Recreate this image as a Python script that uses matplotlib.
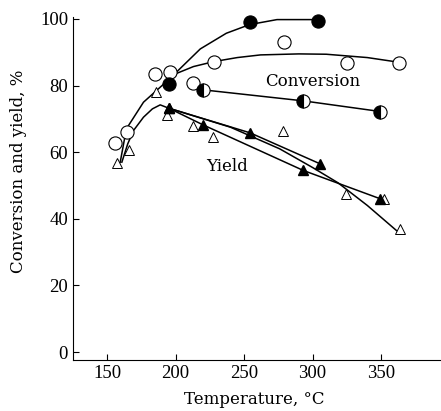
import matplotlib
matplotlib.use('Agg')
import matplotlib.pyplot as plt

plt.rcParams['font.family'] = ['Liberation Serif', 'DejaVu Serif']

# conversion, filled circles
conv_full_t = [195, 254, 304]
conv_full_y = [80.5, 99, 99.3]
conv_full_fit_t = [159.5, 164, 176.5, 188.7, 198, 218, 237, 254, 274, 304]
conv_full_fit_y = [57, 67, 75, 79.5, 83, 91, 95.7, 98.3, 99.8, 99.8]

# conversion, open circles
conv_open_t = [156, 164.4, 185, 196, 213, 228, 279.4, 325, 363.3]
conv_open_y = [62.9, 66, 83.4, 84, 80.9, 87.2, 93.1, 86.8, 86.9]
conv_open_fit_t = [198, 213, 228, 245, 262, 290, 310, 340, 363]
conv_open_fit_y = [83.2, 85.7, 87.2, 88.4, 89.2, 89.5, 89.4, 88.4, 87]

# conversion, half-filled circles
conv_half_t = [220.3, 293.3, 349.6]
conv_half_y = [78.7, 75.4, 72.2]

# yield, open triangles
yield_open_t = [157, 165.6, 185.5, 193.6, 212.5, 227, 278.7, 324.5, 363.9, 352]
yield_open_y = [56.6, 60.6, 78.2, 71.2, 67.8, 64.5, 66.3, 47.4, 36.9, 46]
yield_fit_t = [160.7, 165, 169.2, 176.5, 183, 188.7, 195, 240, 276, 300.4, 318.6, 340, 361.5]
yield_fit_y = [57, 62.5, 66.5, 70.5, 73, 74.2, 73.2, 67.5, 61, 55.3, 50.8, 44, 36.4]

# yield, filled triangles (two runs)
yield_a_t = [195, 254.4, 305.5]
yield_a_y = [73.2, 65.8, 56.5]
yield_b_t = [195, 220, 293.3, 349.5]
yield_b_y = [73.2, 68.2, 54.5, 46]

fig = plt.figure(figsize=(4.41, 4.11), dpi=100)
ax = fig.add_axes([0.1655, 0.124, 0.832, 0.834])

lw = 1.1
ax.plot(conv_full_fit_t, conv_full_fit_y, color='black', lw=lw, clip_on=False)
ax.plot(conv_open_fit_t, conv_open_fit_y, color='black', lw=lw)
ax.plot(conv_half_t, conv_half_y, color='black', lw=lw)
ax.plot(yield_fit_t, yield_fit_y, color='black', lw=lw)
ax.plot(yield_a_t, yield_a_y, color='black', lw=lw)
ax.plot(yield_b_t, yield_b_y, color='black', lw=lw)

ax.plot(conv_open_t, conv_open_y, 'o', ms=9.5, mfc='white', mec='black', mew=0.8)
ax.plot(conv_full_t, conv_full_y, 'o', ms=9.5, mfc='black', mec='black', mew=0.8,
        clip_on=False)
ax.plot(conv_half_t, conv_half_y, 'o', ms=9.5, mfc='black', mfcalt='white',
        fillstyle='left', mec='black', mew=0.8)
ax.plot(yield_open_t, yield_open_y, '^', ms=7.5, mfc='white', mec='black', mew=0.7)
ax.plot(yield_a_t + yield_b_t, yield_a_y + yield_b_y, '^', ms=7.5, mfc='black', mec='black')

ax.text(300, 81.3, 'Conversion', fontsize=12, ha='center', va='center',
        family='DejaVu Serif')
ax.text(237.5, 55.8, 'Yield', fontsize=12, ha='center', va='center',
        family='DejaVu Serif')

ax.set_xlim(125, 393)
ax.set_ylim(-2.4, 100.5)
ax.set_xticks([150, 200, 250, 300, 350])
ax.set_yticks([0, 20, 40, 60, 80, 100])
ax.tick_params(direction='in', labelsize=13.5, length=4, width=0.8)
ax.spines['top'].set_visible(False)
ax.spines['right'].set_visible(False)
ax.set_xlabel('Temperature, °C', fontsize=12, family='DejaVu Serif')
ax.set_ylabel('Conversion and yield, %', fontsize=12, family='DejaVu Serif')
ax.xaxis.set_label_coords(0.493, -0.09)
ax.yaxis.set_label_coords(-0.125, 0.55)

fig.savefig('out.png', dpi=100)
